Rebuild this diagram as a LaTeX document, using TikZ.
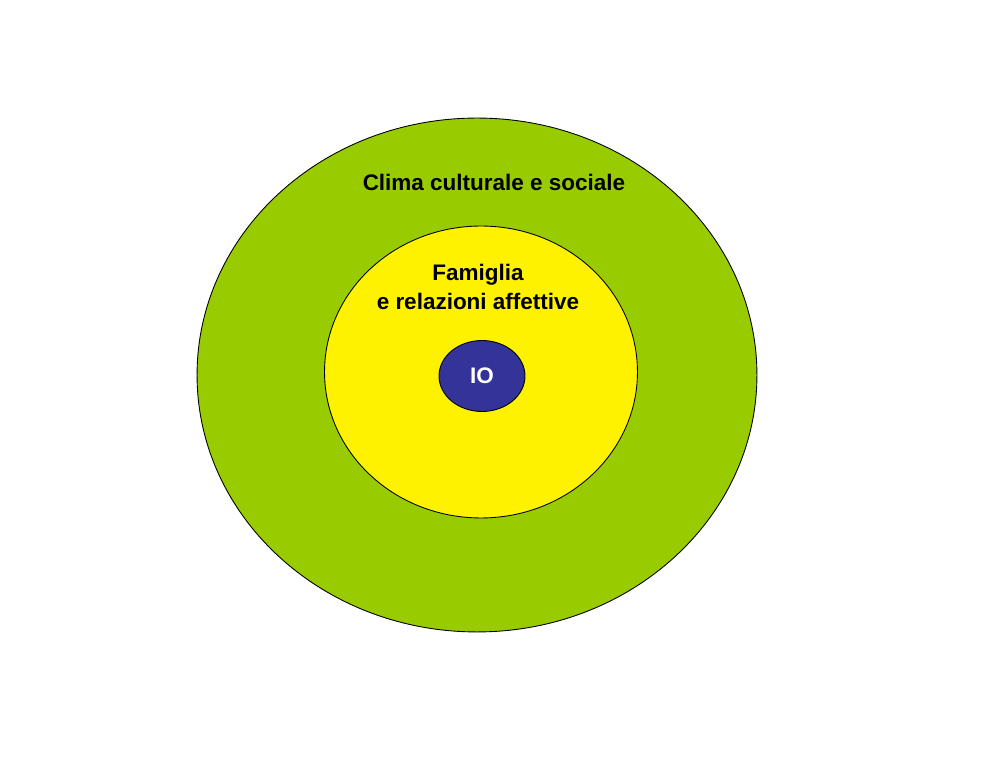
\documentclass[tikz,border=0pt]{standalone}
\usepackage{fontspec}
\setmainfont{Liberation Sans}
\usetikzlibrary{shapes.geometric}
\definecolor{climagreen}{HTML}{99CC00}
\definecolor{famyellow}{HTML}{FFF200}
\definecolor{ioblue}{HTML}{333399}
\begin{document}
\begin{tikzpicture}[
        x=0.02cm, y=-0.02cm,
        ring/.style={ellipse, draw=black, line width=0.5pt, inner sep=0pt},
        lbl/.style={font=\fontsize{12.8}{16}\selectfont\bfseries, align=center}]

    \useasboundingbox (0,0) rectangle (992,766);

    % ---------- nested rings ----------
    \node[ring, fill=climagreen, minimum width=11.2cm, minimum height=10.28cm] (clima) at (477,375) {};
    \node[ring, fill=famyellow, minimum width=6.26cm, minimum height=5.84cm] (fam) at (481,372) {};
    \node[ring, fill=ioblue, minimum width=1.72cm, minimum height=1.42cm] (io) at (482,376) {};

    % ---------- labels ----------
    \node[lbl] (climatxt) at (494,182) {Clima culturale e sociale};
    \node[lbl] (famtxt) at (478,287) {Famiglia\\e relazioni affettive};
    \node[font=\fontsize{12.8}{14}\selectfont\bfseries, text=white] (iotxt) at (io) {IO};
\end{tikzpicture}
\end{document}
